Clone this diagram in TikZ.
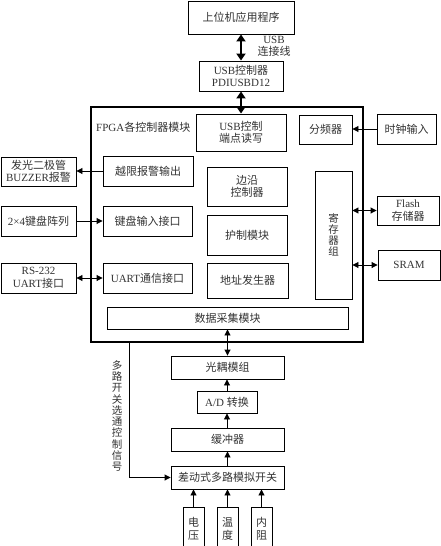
\documentclass[tikz,border=0pt]{standalone}
\usepackage{fontspec}
\setmainfont{Liberation Serif}
\newfontfamily\cjk{Noto Sans CJK SC}
\usetikzlibrary{arrows.meta}
\newcommand\zh[1]{{\cjk #1}}
\begin{document}
\begin{tikzpicture}[x=1pt,y=-1pt,
  box/.style={draw, line width=0.9pt, inner sep=0pt, font=\fontsize{11}{12.5}\selectfont, align=center, text=black!80},
  conn/.style={line width=0.9pt, -{Triangle[length=6pt,width=6pt]}},
  dconn/.style={line width=0.9pt, {Triangle[length=6pt,width=6pt]}-{Triangle[length=6pt,width=6pt]}},
  bigconn/.style={line width=1.8pt, {Triangle[length=7pt,width=9pt]}-{Triangle[length=7pt,width=9pt]}},
  lbl/.style={font=\fontsize{11}{12.5}\selectfont, text=black!80, inner sep=0pt, align=center}]
\useasboundingbox (0,0) rectangle (441,546);
\fill[white] (0,0) rectangle (441,546);

% FPGA frame
\node[draw, line width=2.8pt, minimum width=272pt, minimum height=235pt, inner sep=0pt] (fpga) at (227,224.5) {};
\node[lbl, anchor=west] (fpgalbl) at (96,127) {FPGA\zh{各控制器模块}};

\node[box, minimum width=106pt, minimum height=33pt] (top) at (241,17.5) {\zh{上位机应用程序}};
\node[lbl] (usblbl) at (274,46.5) {USB\\\zh{连接线}};
\node[box, minimum width=84pt, minimum height=30pt] (usbc) at (241,76) {USB\zh{控制器}\\PDIUSBD12};

\node[box, minimum width=90pt, minimum height=37pt] (usbep) at (241,132.5) {USB\zh{控制}\\\zh{端点读写}};
\node[box, minimum width=53pt, minimum height=29pt] (fenpin) at (325.5,129.5) {\zh{分频器}};
\node[box, minimum width=59pt, minimum height=30pt] (clock) at (406.5,129) {\zh{时钟输入}};

\node[box, minimum width=90pt, minimum height=30pt] (yuexian) at (148,171) {\zh{越限报警输出}};
\node[box, minimum width=75pt, minimum height=29pt] (led) at (38.5,171.5) {\zh{发光二极管}\\BUZZER\zh{报警}};

\node[box, minimum width=80pt, minimum height=39pt] (edge) at (247,186.5) {\zh{边沿}\\\zh{控制器}};
\node[box, minimum width=37pt, minimum height=128pt, font=\fontsize{10.5}{10.8}\selectfont] (reg) at (333.5,235) {\zh{寄}\\\zh{存}\\\zh{器}\\\zh{组}};

\node[box, minimum width=89pt, minimum height=30pt] (kbdif) at (147.5,221) {\zh{键盘输入接口}};
\node[box, minimum width=75pt, minimum height=30pt] (kbd) at (38.5,221) {2×4\zh{键盘阵列}};

\node[box, minimum width=80pt, minimum height=40pt] (ctrl) at (247,235) {\zh{护制模块}};
\node[box, minimum width=81pt, minimum height=35pt] (addr) at (247.5,280.5) {\zh{地址发生器}};

\node[box, minimum width=89pt, minimum height=30pt] (uartif) at (147.5,278) {UART\zh{通信接口}};
\node[box, minimum width=75pt, minimum height=30pt] (rs232) at (38.5,278) {RS-232\\UART\zh{接口}};

\node[box, minimum width=62pt, minimum height=29pt] (flash) at (408,210.5) {Flash\\\zh{存储器}};
\node[box, minimum width=62pt, minimum height=30pt] (sram) at (409,265) {SRAM};

\node[box, minimum width=241pt, minimum height=22pt] (daq) at (227.5,318) {\zh{数据采集模块}};

\node[box, minimum width=113pt, minimum height=23pt] (opto) at (227.5,367.5) {\zh{光耦模组}};
\node[box, minimum width=60pt, minimum height=22pt] (ad) at (227,402) {A/D \zh{转换}};
\node[box, minimum width=113pt, minimum height=23pt] (buf) at (227.5,439.5) {\zh{缓冲器}};
\node[box, minimum width=113pt, minimum height=23pt] (mux) at (227.5,477.5) {\zh{差动式多路模拟开关}};

\node[box, minimum width=21pt, minimum height=44pt, font=\fontsize{11}{13}\selectfont] (volt) at (193.5,529) {\zh{电}\\\zh{压}};
\node[box, minimum width=21pt, minimum height=44pt, font=\fontsize{11}{13}\selectfont] (temp) at (227.5,529) {\zh{温}\\\zh{度}};
\node[box, minimum width=21pt, minimum height=44pt, font=\fontsize{11}{13}\selectfont] (res) at (261.5,529) {\zh{内}\\\zh{阻}};

\node[lbl, font=\fontsize{10.5}{11.3}\selectfont] (ctlsig) at (117,416) {\zh{多}\\\zh{路}\\\zh{开}\\\zh{关}\\\zh{选}\\\zh{通}\\\zh{控}\\\zh{制}\\\zh{信}\\\zh{号}};

% connectors
\draw[bigconn] (top) -- (usbc);
\draw[bigconn] (usbc) -- (usbep);
\draw[conn] (clock.west) -- (clock.west -| fenpin.east);
\draw[conn] (yuexian.west) -- (yuexian.west -| led.east);
\draw[conn] (kbd.east) -- (kbd.east -| kbdif.west);
\draw[dconn] (rs232.east) -- (rs232.east -| uartif.west);
\draw[dconn] (reg.east |- flash.west) -- (flash.west);
\draw[dconn] (reg.east |- sram.west) -- (sram.west);
\draw[dconn] (daq) -- (opto);
\draw[conn] (ad.north) -- (ad.north |- opto.south);
\draw[conn] (ad.south |- buf.north) -- (ad.south);
\draw[conn] (mux) -- (buf);
\draw[conn] (volt.north) -- (volt.north |- mux.south);
\draw[conn] (temp.north) -- (temp.north |- mux.south);
\draw[conn] (res.north) -- (res.north |- mux.south);
\coordinate (cx) at (129,0);
\draw[conn] (fpga.south -| cx) |- (mux.west);
\end{tikzpicture}
\end{document}
